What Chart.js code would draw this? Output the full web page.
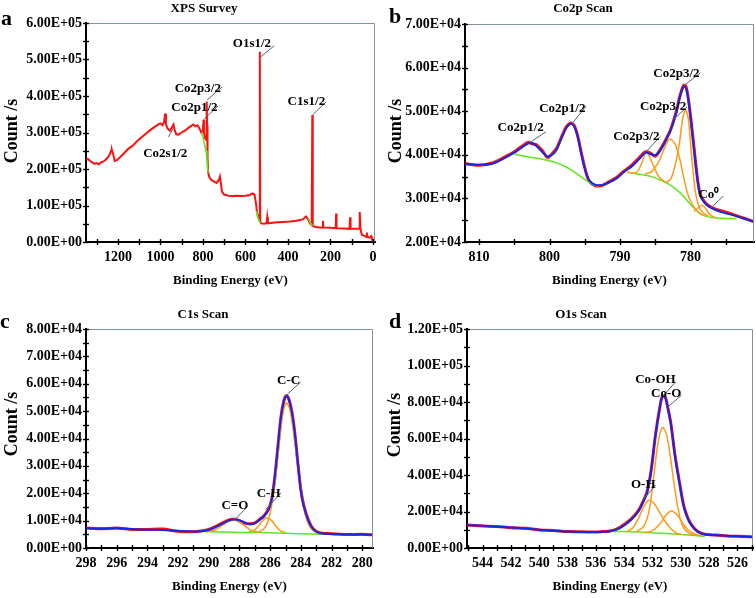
<!DOCTYPE html>
<html><head><meta charset="utf-8">
<script src="https://cdn.jsdelivr.net/npm/chart.js@4.4.1/dist/chart.umd.min.js"></script>
<style>
html,body{margin:0;padding:0;background:#fff;}
#wrap{position:relative;width:756px;height:598px;overflow:hidden;background:#fff;font-family:'Liberation Serif','Times New Roman',serif;font-weight:bold;color:#000;}
canvas{position:absolute;}
.t{position:absolute;white-space:nowrap;transform:translate(-50%,-50%);font-size:13px;line-height:13px;}
.yt{position:absolute;white-space:nowrap;transform:translate(-50%,-50%) rotate(-90deg);font-size:18px;line-height:18px;}
.lt{position:absolute;font-size:22px;line-height:22px;}
</style></head><body>
<div id="wrap">
<canvas id="ca" width="378" height="292" style="left:0;top:0"></canvas>
<canvas id="cb" width="378" height="292" style="left:378px;top:0"></canvas>
<canvas id="cc" width="378" height="306" style="left:0;top:292px"></canvas>
<canvas id="cd" width="378" height="306" style="left:378px;top:292px"></canvas>
<div class="lt" style="left:1px;top:7px">a</div>
<div class="lt" style="left:389px;top:5px">b</div>
<div class="lt" style="left:0px;top:310px">c</div>
<div class="lt" style="left:389px;top:310px">d</div>
<div class="t" style="left:204px;top:7px">XPS Survey</div>
<div class="t" style="left:583px;top:7px">Co2p Scan</div>
<div class="t" style="left:203px;top:313px">C1s Scan</div>
<div class="t" style="left:581px;top:313px">O1s Scan</div>
<div class="yt" style="left:11px;top:131px">Count /s</div>
<div class="yt" style="left:395px;top:131px">Count /s</div>
<div class="yt" style="left:11px;top:424px">Count /s</div>
<div class="yt" style="left:394px;top:425px">Count /s</div>
</div>
<script>
// ---------------- DATA ----------------
// (a) survey
const surveyE = [
 1349,1340,1330,1320,1310,1300,1290,1280,1270,1260,
 1250,1240,1232,1228,1222,1215,1205,1190,1170,1150,
 1130,1110,1090,1070,1050,1030,1010,1000,990,982,
 978,974,965,955,945,938,932,925,915,900,
 885,870,855,845,835,825,815,808,800,797,
 795,790,785,782,780,778,775,770,760,745,
 735,725,720,715,710,700,680,660,640,620,
 600,580,565,557,550,545,540,535,532,530,
 525,510,500,497,494,480,450,420,390,360,
 330,315,305,295,288,285,283,270,250,237,
 235,233,200,175,173,171,140,110,107,105,
 80,65,62,58,52,40,30,28,26,15,
 8,5,0,-10];
const surveyCounts = [
 229000,227000,222000,218000,214000,216000,213000,218000,220000,224000,
 230000,238000,250000,252000,240000,222000,224000,232000,244000,256000,
 264000,276000,286000,296000,306000,314000,322000,325000,320000,330000,
 352000,322000,310000,305000,315000,322000,305000,295000,294000,300000,
 305000,312000,318000,322000,317000,320000,310000,300000,305000,334000,
 300000,285000,280000,385000,320000,230000,190000,178000,170000,165000,
 162000,170000,179000,160000,138000,130000,127000,126000,127000,126000,
 127000,129000,133000,130000,106000,80000,70000,62000,521000,55000,
 51000,50000,52000,68000,51000,52000,54000,55000,56000,58000,
 62000,70000,62000,50000,46000,348000,45000,41000,40000,40000,
 58000,40000,39000,38000,78000,38000,37000,36000,68000,36000,
 36000,36000,82000,35000,20000,17000,14000,26000,14000,12000,
 16000,10000,6000,5000];
const surveyBgE = [806,800,795,790,785,781,778,775,774, 548,543,538,533,529,528, 304,298,292,287,283];
const surveyBg  = [300000,290000,275000,262000,250000,230000,205000,190000,null, 85000,72000,62000,55000,52000,null, 65000,58000,50000,46000,44000];
const surveyXTicks = [0,100,200,300,400,500,600,700,800,900,1000,1100,1200,1300];
const surveyXLabels = [0,200,400,600,800,1000,1200];
const surveyYTicks = [0,50000,100000,150000,200000,250000,300000,350000,400000,450000,500000,550000,600000];
const surveyYLabels = [0,100000,200000,300000,400000,500000,600000];

// (b) Co2p
const co2pE = [
 812,810,808,806,805,804,803,802.5,802,801,
 800.3,799.5,799,798.2,797.6,797,796.5,796,795.5,795,
 794.4,793.5,792.5,791.5,790.5,789.5,788.3,787.3,786.4,785.7,
 785,784.3,783.5,782.8,782,781.5,781,780.7,780.4,780,
 779.5,779,778.6,778,777.4,776.5,775.5,774.5,773.6,772.5,
 771];
const co2pFit = [
 37900,37700,38000,39600,40500,41600,42600,42700,42200,40600,
 39600,40200,41200,44200,46200,47100,46500,44000,40200,36800,
 34200,33100,33100,33700,34600,36000,37400,39000,40500,40200,
 39900,41000,43300,45700,49800,53300,55600,55500,53500,48500,
 41200,34000,30500,29000,28100,27400,26800,26400,26000,25400,
 24700];
const co2pRaw = [
 38000,37600,38200,39800,40700,41900,42900,42500,42400,40900,
 39400,40500,41500,44500,46500,47300,46700,44300,40500,37000,
 34000,32900,33000,33900,34800,36200,37700,39300,40700,40400,
 39700,41200,43500,45900,50100,53600,55900,55800,53800,48900,
 41500,34300,30800,29200,28300,27600,27100,26600,26100,25500,
 24600];
const co2pBgE = [805,803,801,799.5,798,797,796,795,794,793,792.5, 789,787.5,786,785,784,783,782,781,780,779,778,777,775,773.5];
const co2pBg  = [40200,39500,39000,38400,37500,36600,35500,34300,33300,32800,null, 36000,35600,35200,34700,34000,33200,32000,30500,28600,27000,26000,25600,25400,25400];
const co2pSatE = [789,788,787.5,787,786.6,786.3,786,785.5,785,784.5,784,783.5];
const co2pSat  = [36000,35800,36200,37800,39600,40600,40100,38400,36500,35000,34200,33700];
const co2pP2E  = [786.5,785.5,784.5,783.8,783,782.3,781.6,781,780.3,779.5,778.8,778];
const co2pP2   = [35500,36200,38500,41200,43600,42800,39500,35000,30500,28000,26600,26000];
const co2pP3E  = [783.5,782.8,782.2,781.6,781.1,780.7,780.3,779.9,779.4,778.9,778.3,777.5];
const co2pP3   = [33600,34500,37500,42500,48500,50300,48000,40500,32500,28500,26800,26000];
const co2pCo0E = [779.5,778.8,778.3,777.8,777.2,776.5];
const co2pCo0  = [27000,28000,28400,27500,26200,25600];
const co2pXTicks = [775,780,785,790,795,800,805,810];
const co2pXLabels = [780,790,800,810];
const co2pYTicks = [20000,25000,30000,35000,40000,45000,50000,55000,60000,65000,70000];
const co2pYLabels = [20000,30000,40000,50000,60000,70000];

// (c) C1s
const c1sE = [
 298,297,296,295,294,293,292,291,290.5,290,
 289.5,289,288.6,288.3,288,287.6,287.3,287,286.7,286.4,
 286.1,285.9,285.7,285.5,285.3,285.1,284.95,284.8,284.6,284.4,
 284.2,284,283.8,283.5,283.2,282.8,282,281,280,279.3];
const c1sFit = [
 7200,7100,7200,6900,6700,6600,6200,6000,6100,6600,
 7800,9200,10200,10400,10100,9200,8700,9000,10200,11600,
 14000,17500,25500,36500,47500,53800,55500,54500,50000,42000,
 31000,21000,15000,9800,6800,5500,5100,5000,4900,4800];
const c1sRaw = [
 7300,7000,7300,6800,6800,6900,6100,5900,6200,6800,
 8000,9500,10400,10500,10000,9000,8900,9200,10400,11800,
 14300,17800,25800,36800,47800,54000,55700,54700,50300,42300,
 31300,21300,15300,10100,7000,5600,5200,4900,5000,4800];
const c1sBgE = [290.5,289,288,287,286,285,284,283,282.6];
const c1sBg  = [6000,5800,5700,5700,5600,5400,5200,5100,5000];
const c1sCOE = [290.2,289.6,289.2,288.8,288.4,288,287.6,287.2,286.8];
const c1sCO  = [6000,6600,8000,9500,10200,9500,7800,6400,5800];
const c1sCHE = [287.4,287,286.7,286.4,286.2,285.9,285.6,285.3,285];
const c1sCH  = [5800,6600,8500,10500,11000,10000,7800,6200,5600];
const c1sCCE = [286.8,286.4,286.1,285.8,285.5,285.2,284.95,284.7,284.4,284.1,283.8,283.5,283.1,282.7];
const c1sCC  = [5700,7000,10500,19000,33000,48000,53000,50000,39000,26000,14500,8500,6000,5200];
const c1sXTicks = [280,281,282,283,284,285,286,287,288,289,290,291,292,293,294,295,296,297,298];
const c1sXLabels = [280,282,284,286,288,290,292,294,296,298];
const c1sYTicks = [0,5000,10000,15000,20000,25000,30000,35000,40000,45000,50000,55000,60000,65000,70000,75000,80000];
const c1sYLabels = [0,10000,20000,30000,40000,50000,60000,70000,80000];

// (d) O1s
const o1sE = [
 545.1,544,543,542,541,540,539,538,537,536,
 535.5,535,534.5,534,533.5,533,532.7,532.4,532.1,531.8,
 531.5,531.3,531.1,530.9,530.7,530.4,530.1,529.8,529.5,529.2,
 528.8,528.3,527.5,526.5,525.5,524.9];
const o1sFit = [
 12500,12200,11700,11200,10700,10000,9500,9000,8800,8800,
 8900,9200,10200,12400,15500,20000,24500,30000,42000,61000,
 76000,83000,82500,76000,68000,50000,36000,23000,16000,12000,
 8800,7400,7000,6600,6200,6000];
const o1sRaw = [
 12600,12100,11800,11100,10800,9900,9600,9000,8900,8700,
 9000,9300,10500,12900,16000,20500,25000,30300,42300,61300,
 76300,83300,82800,76300,68300,50400,36400,23500,16400,12300,
 9000,7500,7100,6500,6300,6000];
const o1sBgE = [535,534,533,532,531,530,529,528.3];
const o1sBg  = [9200,9000,8700,8400,8000,7400,6800,6400];
const o1sOHE = [533.8,533.4,533,532.6,532.25,531.9,531.5,531.1,530.7,530.3,530];
const o1sOH  = [9000,11000,16000,23000,26200,24500,19500,14500,10500,8200,7500];
const o1sCoOHE = [533.2,532.6,532.2,531.9,531.6,531.3,531,530.7,530.4,530.1,529.8,529.4,529];
const o1sCoOH  = [8700,12000,22000,40000,58000,66000,62000,48000,31000,18000,11000,8000,7000];
const o1sCoOE = [532.6,532,531.5,531.1,530.7,530.3,529.9,529.5,529,528.5];
const o1sCoO  = [8400,9500,13000,17500,20300,18500,14000,10000,7600,6600];
const o1sXTicks = [525,526,527,528,529,530,531,532,533,534,535,536,537,538,539,540,541,542,543,544,545];
const o1sXLabels = [526,528,530,532,534,536,538,540,542,544];
const o1sYTicks = [0,10000,20000,30000,40000,50000,60000,70000,80000,90000,100000,110000,120000];
const o1sYLabels = [0,20000,40000,60000,80000,100000,120000];

// peak labels: text, text centre (eV,count), leader from (eV,count) to (eV,count)
const surveyNotes = [
 ['O1s1/2', 569,544000, 464,538000, 530,506000],
 ['C1s1/2', 313,384000, 220,384000, 284,348000],
 ['Co2p3/2', 824,421000, 709,425000, 780,389000],
 ['Co2p1/2', 840,368000, 728,373000, 799,334000],
 ['Co2s1/2', 977,243000, 962,288000, 935,316000]];
const co2pNotes = [
 ['Co2p1/2', 804.1,46200, 800.5,45300, 802.8,42800],
 ['Co2p1/2', 798.2,50700, 794.8,51200, 796.7,47400],
 ['Co2p3/2', 787.7,44200, 784.3,44200, 786.3,40700],
 ['Co2p3/2', 783.9,51000, 780.5,51000, 782.4,48100],
 ['Co2p3/2', 782.0,58700, 778.6,58800, 781.0,55800],
 ['Co\u2070', 777.4,30800, 775.3,30600, 777.2,27700]];
const c1sNotes = [
 ['C-C', 284.8,61000, 284.0,60700, 285.0,55500],
 ['C-H', 286.1,19900, 285.3,20100, 286.3,14000],
 ['C=O', 288.3,15600, 287.5,15000, 288.35,10100]];
const o1sNotes = [
 ['Co-OH', 531.79,92000, 530.36,91100, 531.25,83300],
 ['Co-O', 531.03,84400, 529.94,83800, 530.94,77100],
 ['O-H', 532.65,34800, 531.77,34400, 532.7,26200]];

// ---------------- DRAWING ----------------
const F = "'Liberation Serif','Times New Roman',serif";
const RED='#ff1010', BLUE='#1428e6', GREEN='#5ee61e', ORANGE='#ff9a1a';

function sci(v){
  if (v === 0) return '0.00E+00';
  const e = Math.floor(Math.log10(v) + 1e-9);
  const m = v / Math.pow(10, e);
  return m.toFixed(2) + 'E+' + (e < 10 ? '0' : '') + e;
}
function pts(xs, ys){ return xs.map((x, i) => ({x: x, y: ys[i]})); }
function line(label, xs, ys, color, width, order, tension){
  return {label, data: pts(xs, ys), borderColor: color, backgroundColor: color, borderWidth: width,
    pointRadius: 0, showLine: true, fill: false, tension: tension, order: order, spanGaps: false};
}
function xScale(min, max, ticks, labels){
  return {type: 'linear', reverse: true, min, max,
    afterBuildTicks: s => { s.ticks = ticks.map(v => ({value: v})); },
    ticks: {autoSkip: false, maxRotation: 0, minRotation: 0, padding: 3, color: '#000',
      font: {family: F, size: 14, weight: 'bold'},
      callback: v => labels.includes(v) ? String(v) : ''},
    grid: {display: false, drawTicks: true, tickLength: 4},
    border: {display: true, color: '#000', width: 2},
    title: {display: true, text: 'Binding Energy (eV)', color: '#000',
      font: {family: F, size: 13, weight: 'bold'}, padding: {top: 0, bottom: 4}},
    afterFit: s => { s.height = 50; }};
}
function yScale(min, max, ticks, labels, width){
  return {type: 'linear', min, max,
    afterBuildTicks: s => { s.ticks = ticks.map(v => ({value: v})); },
    ticks: {autoSkip: false, padding: 2, color: '#000',
      font: {family: F, size: 14, weight: 'bold'},
      callback: v => labels.includes(v) ? sci(v) : ''},
    grid: {display: false, drawTicks: true, tickLength: 2},
    border: {display: true, color: '#000', width: 2},
    title: {display: false},
    afterFit: s => { s.width = width; }};
}
function decor(notes){
  return {id: 'decor',
    afterDatasetsDraw(chart){
      const {ctx, chartArea: a, scales: {x, y}} = chart;
      ctx.save();
      ctx.strokeStyle = '#7f929c'; ctx.lineWidth = 1;
      ctx.beginPath();
      ctx.moveTo(a.left, a.top + 0.5); ctx.lineTo(a.right - 0.5, a.top + 0.5); ctx.lineTo(a.right - 0.5, a.bottom);
      ctx.stroke();
      ctx.strokeStyle = '#000'; ctx.lineWidth = 1.4;
      x.ticks.forEach(t => { const p = Math.round(x.getPixelForValue(t.value)) + 0.5;
        ctx.beginPath(); ctx.moveTo(p, a.bottom - 3); ctx.lineTo(p, a.bottom + 3); ctx.stroke(); });
      y.ticks.forEach(t => { const p = Math.round(y.getPixelForValue(t.value)) + 0.5;
        ctx.beginPath(); ctx.moveTo(a.left - 3, p); ctx.lineTo(a.left + 3, p); ctx.stroke(); });
      ctx.font = "bold 13px " + F; ctx.textAlign = 'center'; ctx.textBaseline = 'middle'; ctx.fillStyle = '#000';
      notes.forEach(n => {
        ctx.strokeStyle = '#4a6378'; ctx.lineWidth = 1;
        ctx.beginPath();
        ctx.moveTo(x.getPixelForValue(n[3]), y.getPixelForValue(n[4]));
        ctx.lineTo(x.getPixelForValue(n[5]), y.getPixelForValue(n[6]));
        ctx.stroke();
        ctx.fillText(n[0], x.getPixelForValue(n[1]), y.getPixelForValue(n[2]));
      });
      ctx.restore();
    }};
}
function make(id, datasets, xs, ys, pad, notes){
  return new Chart(document.getElementById(id), {
    type: 'scatter',
    data: {datasets},
    options: {responsive: false, animation: false, devicePixelRatio: 1,
      layout: {padding: pad},
      plugins: {legend: {display: false}, tooltip: {enabled: false}, title: {display: false}},
      scales: {x: xs, y: ys}},
    plugins: [decor(notes)]
  });
}

make('ca', [
  line('Survey background', surveyBgE, surveyBg, GREEN, 1.6, 1, 0),
  line('Survey', surveyE, surveyCounts, RED, 2, 2, 0)
], xScale(-10, 1350, surveyXTicks, surveyXLabels), yScale(0, 600000, surveyYTicks, surveyYLabels, 86),
 {left: 0, top: 23, right: 3, bottom: 0}, surveyNotes);

make('cb', [
  line('Co2p fit', co2pE, co2pFit, BLUE, 2, 0, 0.3),
  line('Co2p sat', co2pSatE, co2pSat, ORANGE, 1.5, 1, 0.3),
  line('Co2p p2', co2pP2E, co2pP2, ORANGE, 1.5, 1, 0.3),
  line('Co2p p3', co2pP3E, co2pP3, ORANGE, 1.5, 1, 0.3),
  line('Co0', co2pCo0E, co2pCo0, ORANGE, 1.5, 1, 0.3),
  line('Co2p background', co2pBgE, co2pBg, GREEN, 1.5, 2, 0.3),
  line('Co2p raw', co2pE, co2pRaw, RED, 3, 3, 0.3)
], xScale(771, 812, co2pXTicks, co2pXLabels), yScale(20000, 70000, co2pYTicks, co2pYLabels, 87),
 {left: 0, top: 24, right: 2, bottom: 0}, co2pNotes);

make('cc', [
  line('C1s fit', c1sE, c1sFit, BLUE, 2, 0, 0.3),
  line('C=O', c1sCOE, c1sCO, ORANGE, 1.5, 1, 0.3),
  line('C-H', c1sCHE, c1sCH, ORANGE, 1.5, 1, 0.3),
  line('C-C', c1sCCE, c1sCC, ORANGE, 1.5, 1, 0.3),
  line('C1s background', c1sBgE, c1sBg, GREEN, 1.5, 2, 0.3),
  line('C1s raw', c1sE, c1sRaw, RED, 3, 3, 0.3)
], xScale(279.3, 298, c1sXTicks, c1sXLabels), yScale(0, 80000, c1sYTicks, c1sYLabels, 86),
 {left: 0, top: 37, right: 5, bottom: 0}, c1sNotes);

make('cd', [
  line('O1s fit', o1sE, o1sFit, BLUE, 2, 0, 0.3),
  line('O-H', o1sOHE, o1sOH, ORANGE, 1.5, 1, 0.3),
  line('Co-OH', o1sCoOHE, o1sCoOH, ORANGE, 1.5, 1, 0.3),
  line('Co-O', o1sCoOE, o1sCoO, ORANGE, 1.5, 1, 0.3),
  line('O1s background', o1sBgE, o1sBg, GREEN, 1.5, 2, 0.3),
  line('O1s raw', o1sE, o1sRaw, RED, 3, 3, 0.3)
], xScale(524.9, 545.1, o1sXTicks, o1sXLabels), yScale(0, 120000, o1sYTicks, o1sYLabels, 89),
 {left: 0, top: 37, right: 3, bottom: 0}, o1sNotes);
</script>
</body></html>
